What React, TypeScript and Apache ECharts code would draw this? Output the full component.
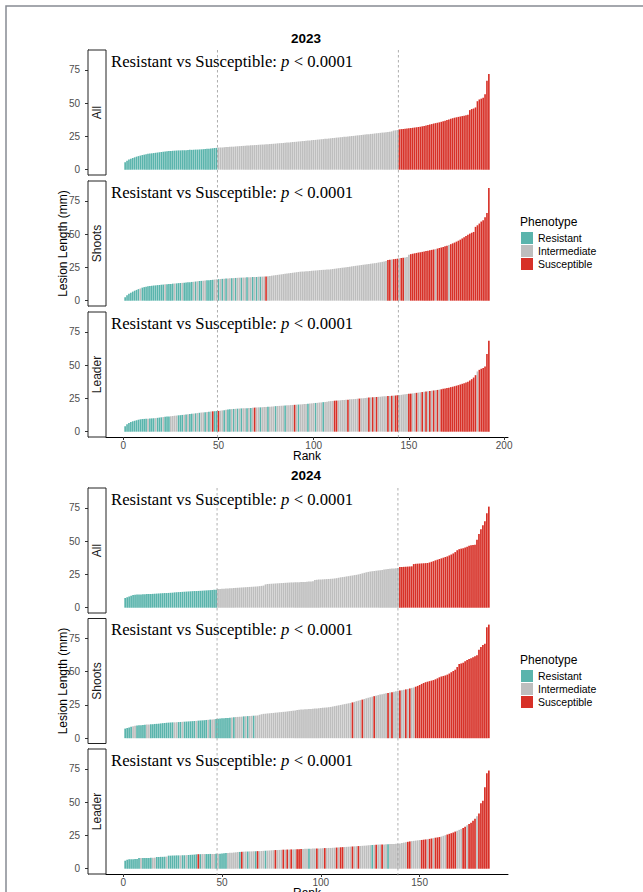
import React, { useEffect, useRef } from "react";
import * as echarts from "echarts";

// ---------- categories, labels, ticks ----------
const YEARS = ["2023", "2024"];
const FACETS = ["All", "Shoots", "Leader"];
const PHENOTYPES = ["Resistant", "Intermediate", "Susceptible"];
const PHENO_CODES = ["R", "I", "S"];
const Y_TICKS = [0, 25, 50, 75];
const X_TICKS_2023 = [0, 50, 100, 150, 200];
const X_TICKS_2024 = [0, 50, 100, 150];
const CUTS_2023 = [49.5, 144.5];
const CUTS_2024 = [47.5, 139];
const ANNOT_A = "Resistant vs Susceptible: ";
const ANNOT_P = "p";
const ANNOT_B = " < 0.0001";

// ---------- 2023 lesion lengths (sorted by rank) ----------
const all2023 = [
  5.5, 6.8, 7.6, 8.3, 8.8, 9.3, 9.8, 10.2, 10.6, 11.0,
  11.3, 11.6, 11.9, 12.1, 12.3, 12.5, 12.7, 12.9, 13.1, 13.3,
  13.5, 13.7, 13.9, 14.0, 14.1, 14.2, 14.3, 14.4, 14.5, 14.5,
  14.6, 14.6, 14.7, 14.8, 14.9, 14.9, 15.0, 15.1, 15.1, 15.2,
  15.3, 15.4, 15.5, 15.7, 15.8, 15.9, 16.1, 16.3, 16.4, 16.6,
  16.7, 16.7, 16.9, 17.0, 17.0, 17.2, 17.3, 17.3, 17.5, 17.6,
  17.7, 17.8, 17.9, 18.0, 18.1, 18.2, 18.3, 18.4, 18.5, 18.6,
  18.7, 18.8, 18.9, 19.0, 19.1, 19.2, 19.3, 19.4, 19.5, 19.6,
  19.8, 19.9, 20.0, 20.1, 20.2, 20.4, 20.5, 20.6, 20.8, 20.9,
  21.0, 21.2, 21.3, 21.5, 21.6, 21.7, 21.9, 22.0, 22.2, 22.3,
  22.4, 22.6, 22.7, 22.9, 23.0, 23.2, 23.3, 23.5, 23.6, 23.8,
  23.9, 24.1, 24.2, 24.4, 24.5, 24.7, 24.8, 25.0, 25.1, 25.3,
  25.4, 25.6, 25.8, 25.9, 26.1, 26.2, 26.4, 26.6, 26.7, 26.9,
  27.0, 27.2, 27.4, 27.5, 27.7, 27.9, 28.0, 28.2, 28.4, 28.6,
  28.8, 29.4, 29.6, 29.8, 30.3, 30.5, 30.6, 30.8, 31.0, 31.1,
  31.3, 31.5, 31.7, 31.9, 32.1, 32.3, 32.6, 32.9, 33.3, 33.6,
  33.9, 34.3, 34.7, 35.0, 35.3, 35.6, 36.0, 36.4, 36.8, 37.3,
  37.8, 38.3, 38.7, 39.1, 39.4, 39.7, 40.0, 40.3, 40.6, 41.0,
  41.4, 44.8, 45.6, 46.0, 46.8, 51.5, 52.8, 53.4, 54.0, 56.8,
  66.9, 72.0,
];
const shoots2023 = [
  2.5, 4.0, 5.2, 6.0, 6.8, 7.5, 8.1, 8.7, 9.2, 9.8,
  10.2, 10.5, 10.8, 11.0, 11.2, 11.4, 11.5, 11.7, 11.8, 12.0,
  12.1, 12.3, 12.4, 12.5, 12.6, 12.8, 12.9, 13.0, 13.2, 13.3,
  13.4, 13.5, 13.7, 13.8, 13.9, 14.1, 14.2, 14.4, 14.6, 14.8,
  14.9, 15.0, 15.1, 15.3, 15.4, 15.6, 15.7, 15.9, 16.1, 16.2,
  16.3, 16.4, 16.5, 16.6, 16.7, 16.8, 16.9, 17.0, 17.1, 17.2,
  17.3, 17.3, 17.4, 17.5, 17.6, 17.6, 17.7, 17.8, 17.8, 17.9,
  18.0, 18.0, 18.1, 18.1, 18.2, 18.4, 18.6, 18.8, 19.0, 19.2,
  19.4, 19.6, 19.8, 20.0, 20.2, 20.4, 20.6, 20.8, 21.0, 21.2,
  21.4, 21.6, 21.8, 21.9, 22.0, 22.1, 22.2, 22.3, 22.5, 22.6,
  22.7, 22.8, 23.0, 23.1, 23.2, 23.3, 23.4, 23.5, 23.6, 23.8,
  24.0, 24.2, 24.4, 24.6, 24.8, 25.0, 25.2, 25.4, 25.6, 25.8,
  26.0, 26.2, 26.4, 26.6, 26.8, 27.0, 27.2, 27.4, 27.6, 27.8,
  28.0, 28.2, 28.4, 28.7, 28.9, 29.2, 29.5, 29.8, 30.6, 30.8,
  31.0, 31.2, 31.4, 31.6, 31.9, 32.1, 32.3, 32.5, 32.8, 34.5,
  35.0, 35.3, 35.6, 35.9, 36.2, 36.4, 36.7, 37.0, 37.3, 37.6,
  37.9, 38.2, 38.5, 38.8, 39.2, 39.6, 40.0, 40.4, 40.9, 41.4,
  41.9, 42.5, 43.1, 43.7, 44.4, 45.1, 45.9, 46.8, 47.7, 48.6,
  49.6, 50.4, 51.1, 51.7, 55.5, 56.7, 58.0, 59.5, 60.4, 62.8,
  65.9, 84.8,
];
const leader2023 = [
  4.0, 5.5, 6.5, 7.3, 7.8, 8.2, 8.6, 9.0, 9.3, 9.5,
  9.6, 9.7, 9.8, 9.9, 10.0, 10.1, 10.2, 10.4, 10.6, 10.8,
  11.0, 11.2, 11.4, 11.5, 11.6, 11.8, 12.0, 12.1, 12.3, 12.4,
  12.6, 12.7, 12.9, 13.1, 13.3, 13.5, 13.6, 13.8, 14.0, 14.2,
  14.4, 14.5, 14.7, 14.8, 15.0, 15.1, 15.3, 15.4, 15.5, 15.6,
  15.8, 16.0, 16.2, 16.4, 16.6, 16.8, 17.0, 17.1, 17.2, 17.3,
  17.4, 17.5, 17.6, 17.7, 17.7, 17.8, 17.9, 18.0, 18.1, 18.2,
  18.3, 18.3, 18.4, 18.5, 18.6, 18.7, 18.8, 18.9, 19.0, 19.2,
  19.3, 19.4, 19.5, 19.6, 19.7, 19.8, 19.9, 20.0, 20.1, 20.2,
  20.3, 20.4, 20.5, 20.6, 20.8, 20.9, 21.0, 21.2, 21.3, 21.5,
  21.6, 21.7, 21.9, 22.0, 22.2, 22.4, 22.6, 22.8, 23.0, 23.1,
  23.3, 23.4, 23.5, 23.6, 23.8, 23.9, 24.0, 24.1, 24.3, 24.4,
  24.5, 24.6, 24.8, 24.9, 25.1, 25.2, 25.4, 25.6, 25.7, 25.8,
  25.9, 26.0, 26.1, 26.2, 26.3, 26.5, 26.6, 26.7, 26.8, 26.9,
  27.0, 27.1, 27.2, 27.4, 27.5, 27.7, 27.9, 28.1, 28.3, 28.5,
  28.6, 28.8, 29.0, 29.2, 29.4, 29.6, 29.8, 30.0, 30.2, 30.4,
  30.6, 30.8, 31.0, 31.2, 31.4, 31.7, 31.9, 32.2, 32.5, 32.8,
  33.1, 33.5, 33.8, 34.2, 34.6, 35.0, 35.5, 36.0, 36.5, 37.0,
  37.6, 38.5, 39.5, 40.7, 42.5, 45.3, 46.5, 47.3, 47.9, 49.0,
  58.4, 68.3,
];

// ---------- 2024 lesion lengths (sorted by rank) ----------
const all2024 = [
  7.3, 7.9, 8.4, 9.0, 9.5, 9.8, 9.9, 10.0, 10.0, 10.1,
  10.1, 10.2, 10.2, 10.3, 10.4, 10.5, 10.6, 10.7, 10.8, 10.9,
  11.0, 11.0, 11.1, 11.2, 11.3, 11.5, 11.6, 11.7, 11.8, 11.9,
  12.0, 12.1, 12.2, 12.3, 12.4, 12.5, 12.5, 12.6, 12.7, 12.8,
  12.9, 13.0, 13.1, 13.2, 13.3, 13.4, 13.5, 14.0, 14.1, 14.2,
  14.3, 14.4, 14.5, 14.6, 14.7, 14.8, 14.9, 15.0, 15.1, 15.2,
  15.3, 15.4, 15.5, 15.6, 15.7, 15.8, 15.9, 16.0, 16.2, 16.4,
  16.6, 17.5, 17.8, 17.9, 18.0, 18.1, 18.2, 18.3, 18.4, 18.5,
  18.6, 18.7, 18.8, 18.9, 19.0, 19.0, 19.1, 19.1, 19.2, 19.3,
  19.4, 19.4, 19.5, 19.6, 19.7, 19.8, 20.8, 21.0, 21.1, 21.2,
  21.3, 21.4, 21.5, 21.6, 21.7, 21.8, 22.0, 22.2, 22.5, 22.8,
  23.0, 23.2, 23.5, 23.7, 24.0, 24.2, 24.5, 24.7, 25.0, 25.4,
  25.8, 26.2, 26.6, 26.9, 27.2, 27.4, 27.6, 27.8, 28.0, 28.2,
  28.4, 28.7, 28.9, 29.1, 29.3, 29.4, 29.5, 29.7, 29.8, 30.5,
  30.6, 30.7, 30.8, 30.9, 31.0, 31.1, 32.8, 33.0, 33.1, 33.2,
  33.3, 33.4, 33.5, 33.6, 34.0, 34.5, 35.0, 35.6, 36.1, 36.6,
  37.1, 37.6, 38.1, 38.6, 39.3, 40.0, 40.8, 41.8, 43.2, 44.0,
  44.4, 44.7, 45.2, 45.9, 46.5, 46.9, 47.1, 47.3, 51.0, 55.5,
  59.0, 62.0, 65.0, 71.0, 76.0,
];
const shoots2024 = [
  7.2, 7.6, 8.1, 8.6, 9.0, 9.3, 9.5, 9.7, 9.8, 9.9,
  10.1, 10.2, 10.3, 10.4, 10.5, 10.7, 10.8, 10.9, 11.1, 11.3,
  11.4, 11.6, 11.7, 11.8, 11.9, 11.9, 12.0, 12.1, 12.2, 12.3,
  12.4, 12.5, 12.6, 12.7, 12.8, 12.9, 13.0, 13.2, 13.3, 13.4,
  13.5, 13.7, 13.8, 14.0, 14.1, 14.3, 14.5, 14.6, 14.8, 14.9,
  15.0, 15.1, 15.2, 15.4, 15.6, 15.8, 15.9, 16.0, 16.1, 16.2,
  16.4, 16.5, 16.6, 16.7, 16.8, 16.9, 17.0, 17.1, 17.6, 18.0,
  18.3, 18.4, 18.6, 18.7, 18.9, 19.0, 19.2, 19.3, 19.5, 19.6,
  19.8, 19.9, 20.1, 20.3, 20.5, 20.7, 20.9, 21.1, 21.3, 21.5,
  21.6, 21.7, 21.8, 21.9, 22.0, 22.1, 22.3, 22.4, 22.6, 22.7,
  22.9, 23.0, 23.1, 23.3, 23.5, 23.8, 24.1, 24.4, 24.7, 25.0,
  25.3, 25.6, 25.9, 26.2, 26.5, 26.9, 27.3, 27.8, 28.2, 28.6,
  29.0, 29.5, 30.0, 30.4, 30.8, 31.2, 31.6, 32.0, 32.4, 32.8,
  33.1, 33.4, 33.7, 34.0, 34.3, 34.6, 34.9, 35.2, 35.5, 35.8,
  36.1, 36.4, 36.7, 37.0, 37.4, 37.8, 38.1, 38.7, 39.3, 40.0,
  40.8, 41.5, 42.1, 42.5, 42.9, 43.3, 43.7, 44.3, 45.0, 45.8,
  46.4, 46.8, 47.2, 47.8, 48.6, 49.6, 50.5, 51.5, 53.5, 55.8,
  56.2, 56.8, 57.8, 58.8, 59.6, 60.2, 60.9, 61.6, 62.4, 66.5,
  68.5, 70.0, 71.0, 83.4, 85.4,
];
const leader2024 = [
  6.0, 6.8, 7.0, 7.0, 7.1, 7.2, 7.3, 8.0, 8.0, 8.0,
  8.0, 8.1, 8.1, 8.2, 8.2, 8.3, 8.8, 8.8, 8.9, 8.9,
  9.0, 9.1, 9.8, 9.8, 9.9, 9.9, 10.0, 10.0, 10.0, 10.1,
  10.1, 10.2, 10.3, 10.4, 10.5, 10.6, 10.8, 10.9, 10.9, 11.0,
  11.0, 11.0, 11.0, 11.1, 11.1, 11.1, 11.2, 11.2, 11.3, 11.5,
  11.6, 11.7, 11.8, 11.9, 12.0, 12.2, 12.3, 12.5, 12.6, 12.7,
  12.8, 12.9, 12.9, 13.0, 13.0, 13.1, 13.1, 13.2, 13.2, 13.3,
  13.4, 13.5, 13.6, 13.7, 13.8, 13.9, 14.0, 14.0, 14.1, 14.2,
  14.3, 14.3, 14.4, 14.4, 14.5, 14.5, 14.6, 14.6, 14.7, 14.8,
  14.8, 14.9, 14.9, 15.0, 15.0, 15.1, 15.1, 15.2, 15.2, 15.3,
  15.4, 15.5, 15.5, 15.6, 15.6, 15.7, 15.8, 15.9, 16.0, 16.1,
  16.2, 16.3, 16.4, 16.5, 16.6, 16.7, 16.8, 16.9, 17.0, 17.1,
  17.2, 17.3, 17.4, 17.6, 17.7, 17.8, 17.9, 18.0, 18.1, 18.1,
  18.2, 18.2, 18.3, 18.4, 18.5, 18.5, 18.6, 18.7, 18.8, 19.0,
  19.3, 19.6, 19.9, 20.2, 20.5, 20.7, 20.9, 21.1, 21.3, 21.5,
  21.6, 21.8, 22.0, 22.2, 22.4, 22.7, 23.0, 23.3, 23.5, 23.8,
  24.2, 24.7, 25.2, 25.7, 26.2, 26.7, 27.2, 27.9, 28.5, 29.2,
  29.8, 30.5, 31.5, 32.6, 33.6, 34.5, 36.0, 37.5, 39.5, 41.5,
  49.2, 51.0, 61.2, 71.8, 73.8,
];

// ---------- phenotype of each ranked bar (R / I / S) ----------
const phenoAll2023 = "R".repeat(49) + "I".repeat(95) + "S".repeat(48);
const phenoShoots2023 = [
  "RRRRRRRRIR", "RRRRRRRRRR", "RIRRRRIRRR", "IRRRRRIRIR", "RIIRRRRIIR",
  "IRIRIIRIRI", "IRIIRIIRIR", "IRIISIIIII", "IIIIIIIIII", "IIIIIIIIII",
  "IIIIIIIIII", "IIIIIIIIII", "IIIIIIIIII", "IIIIIIIISS", "ISSSISSIII",
  "SSSSSSSSSS", "SSSISSSSSS", "ISSSSSSSSS", "SSSSSSSSSS", "SS",
].join("");
const phenoLeader2023 = [
  "RRRRRRRRRR", "RRIRRRIRRR", "IRRRIIIIRR", "RIRIRRIRIR", "IIRIRISRRS",
  "IIRIRRIRIR", "IRIIRIRISI", "IRIIIRIIIR", "IIIIRIIIIS", "IRIIIIRIII",
  "RIIIRIIIII", "SSIIIIISII", "IIISIIIISI", "SISIIIIISI", "SISSIIIIIS",
  "SIISIISISI", "SISISISSSS", "SSSSSSSSSS", "SSSSSISSSS", "SS",
].join("");
const phenoAll2024 = "R".repeat(47) + "I".repeat(92) + "S".repeat(46);
const phenoShoots2024 = [
  "RRRRIIRRRR", "RIIRRRRRRR", "RRRRRIIRRI", "RRRRRRIRRR", "RRIRIIRRRR",
  "RRRRIRIIII", "RIRIIRIIII", "IIIIIIIIII", "IIIIIIIIII", "IIIIIIIIII",
  "IIIIIIIIII", "IIIIISIIII", "SIIIIISIII", "IIISISIIIS", "IISISIISSS",
  "SSSSSSSSSS", "SSSSSSSSSS", "SSSSSSSSSS", "SSSSS",
].join("");
const phenoLeader2024 = [
  "RRRRRRRRIR", "RRRRIIRRRR", "RIRRRRRRIR", "RIRRRRRSRI", "IRRRIIRIRR",
  "RRIIIIIIRS", "IIRIIIRSII", "IRIIIISIII", "SISISIISSS", "IIIRIIISII",
  "ISIIIIISIS", "SIIIISIISI", "IIIIIRISII", "SIIRIIIIII", "IIISSIIIII",
  "SSSISSISSS", "IIISSSSSII", "ISSISSSSIS", "SSSSS",
].join("");

// ---------- styles & layout ----------
const COLORS = ["#5AB4AC", "#BEBEBE", "#D73027"];
const SANS = "'Liberation Sans', Arial, Helvetica, sans-serif";
const SERIF = "'Liberation Serif', 'Times New Roman', Times, serif";
const GRID_LEFT = 106;
const GRID_W = 402;
const PANEL_H = 125;
const PANEL_TOPS = [
  [50, 181, 312],
  [488, 618.5, 749],
];
const X_RANGES = [
  [-9.05, 202.05],
  [-8.7, 194.7],
];
const Y_RANGE = [-4, 90];
const YEAR_TITLE_Y = [38, 475.7];
const LEGEND_TITLE_Y = [221.5, 659.5];
const LEGEND_TOP = [232, 670];

const YEAR_DATA = [
  {
    values: [all2023, shoots2023, leader2023],
    phenos: [phenoAll2023, phenoShoots2023, phenoLeader2023],
    xTicks: X_TICKS_2023,
    cuts: CUTS_2023,
  },
  {
    values: [all2024, shoots2024, leader2024],
    phenos: [phenoAll2024, phenoShoots2024, phenoLeader2024],
    xTicks: X_TICKS_2024,
    cuts: CUTS_2024,
  },
];

function buildOption(): any {
  const grid: any[] = [];
  const xAxis: any[] = [];
  const yAxis: any[] = [];
  const series: any[] = [];

  YEAR_DATA.forEach((yd, yi) => {
    const [xmin, xmax] = X_RANGES[yi];
    const pxPerUnit = GRID_W / (xmax - xmin);
    FACETS.forEach((facet, fi) => {
      const gi = yi * 3 + fi;
      const isBottom = fi === 2;
      grid.push({
        left: GRID_LEFT,
        top: PANEL_TOPS[yi][fi],
        width: GRID_W,
        height: PANEL_H,
        containLabel: false,
        outerBoundsMode: "none",
      });
      xAxis.push({
        type: "value",
        gridIndex: gi,
        min: xmin,
        max: xmax,
        show: isBottom,
        splitLine: { show: false },
        axisLine: { show: true, onZero: false, lineStyle: { color: "#000", width: 1 } },
        axisTick: { show: true, length: 3, customValues: yd.xTicks, lineStyle: { color: "#333" } },
        axisLabel: {
          show: true,
          customValues: yd.xTicks,
          color: "#4D4D4D",
          fontSize: 10,
          margin: 3,
          fontFamily: SANS,
        },
        name: isBottom ? "Rank" : "",
        nameLocation: "middle",
        nameGap: 13,
        nameMoveOverlap: false,
        nameTextStyle: { fontSize: 12, color: "#000", fontFamily: SANS },
      });
      yAxis.push({
        type: "value",
        gridIndex: gi,
        min: Y_RANGE[0],
        max: Y_RANGE[1],
        offset: 18,
        splitLine: { show: false },
        axisLine: { show: true, onZero: false, lineStyle: { color: "#000", width: 1 } },
        axisTick: { show: true, length: 3, customValues: Y_TICKS, lineStyle: { color: "#333" } },
        axisLabel: {
          customValues: Y_TICKS,
          color: "#4D4D4D",
          fontSize: 10,
          margin: 8,
          fontFamily: SANS,
        },
        name: fi === 1 ? "Lesion Length (mm)" : "",
        nameLocation: "middle",
        nameGap: 19,
        nameMoveOverlap: false,
        nameTextStyle: { fontSize: 12, color: "#000", fontFamily: SANS },
      });
      const vals = yd.values[fi];
      const ph = yd.phenos[fi];
      PHENO_CODES.forEach((code, pi) => {
        const data: any[] = [];
        vals.forEach((v, i) => {
          if (ph[i] === code) data.push([i + 1, v]);
        });
        series.push({
          type: "bar",
          name: PHENOTYPES[pi],
          xAxisIndex: gi,
          yAxisIndex: gi,
          barWidth: pxPerUnit * 0.86,
          barGap: "-100%",
          itemStyle: { color: COLORS[pi] },
          silent: true,
          data,
        });
      });
    });
  });

  return {
    animation: false,
    backgroundColor: "#ffffff",
    textStyle: { fontFamily: SANS },
    grid,
    xAxis,
    yAxis,
    series,
    legend: LEGEND_TOP.map((top) => ({
      data: PHENOTYPES,
      orient: "vertical",
      left: 521,
      top,
      itemWidth: 12,
      itemHeight: 12,
      itemGap: 1,
      icon: "rect",
      padding: 0,
      selectedMode: false,
      textStyle: { fontSize: 10.5, color: "#000", fontFamily: SANS },
    })),
  };
}

function buildGraphics(chart: any): any[] {
  const g: any[] = [];
  g.push({
    type: "rect",
    silent: true,
    shape: { x: 6, y: 6, width: 800, height: 1000 },
    style: { fill: "none", stroke: "#868B93", lineWidth: 1.5 },
  });
  YEAR_DATA.forEach((yd, yi) => {
    g.push({
      type: "text",
      x: 306,
      y: YEAR_TITLE_Y[yi],
      style: {
        text: YEARS[yi],
        fontSize: 13.5,
        fontWeight: "bold",
        fontFamily: SANS,
        fill: "#000",
        textAlign: "center",
        textVerticalAlign: "middle",
        align: "center",
        verticalAlign: "middle",
      },
    });
    g.push({
      type: "text",
      x: 520,
      y: LEGEND_TITLE_Y[yi],
      style: {
        text: "Phenotype",
        fontSize: 12,
        fontFamily: SANS,
        fill: "#000",
        textAlign: "left",
        textVerticalAlign: "middle",
        align: "left",
        verticalAlign: "middle",
      },
    });
    FACETS.forEach((facet, fi) => {
      const top = PANEL_TOPS[yi][fi];
      g.push({
        type: "rect",
        silent: true,
        shape: { x: 88, y: top, width: 18, height: PANEL_H },
        style: { fill: "#ffffff", stroke: "#222", lineWidth: 1 },
        z: 5,
      });
      g.push({
        type: "text",
        x: 97,
        y: top + PANEL_H / 2,
        rotation: Math.PI / 2,
        z: 6,
        style: {
          text: facet,
          fontSize: 12,
          fontFamily: SANS,
          fill: "#1A1A1A",
          textAlign: "center",
          textVerticalAlign: "middle",
          align: "center",
          verticalAlign: "middle",
        },
      });
      g.push({
        type: "text",
        x: 111,
        y: top + 11.2,
        z: 6,
        style: {
          text: `{a|${ANNOT_A}}{b|${ANNOT_P}}{a|${ANNOT_B}}`,
          textAlign: "left",
          textVerticalAlign: "middle",
          align: "left",
          verticalAlign: "middle",
          rich: {
            a: { fontFamily: SERIF, fontSize: 16.7, fill: "#000", textFill: "#000" },
            b: { fontFamily: SERIF, fontSize: 16.7, fontStyle: "italic", fill: "#000", textFill: "#000" },
          },
        },
      });
    });
    const yTop = PANEL_TOPS[yi][0];
    const yBot = PANEL_TOPS[yi][2] + PANEL_H;
    yd.cuts.forEach((c) => {
      const px = chart.convertToPixel({ xAxisIndex: yi * 3 }, c);
      g.push({
        type: "line",
        silent: true,
        z: 20,
        shape: { x1: px, y1: yTop, x2: px, y2: yBot + 2 },
        style: { stroke: "#9A9A9A", lineWidth: 0.8, lineDash: [2.5, 2.5] },
      });
    });
  });
  return g;
}

export default function App() {
  const ref = useRef<HTMLDivElement>(null);
  useEffect(() => {
    if (!ref.current) return;
    const chart = echarts.init(ref.current, null, { renderer: "svg" });
    chart.setOption(buildOption());
    chart.setOption({ graphic: [{ elements: buildGraphics(chart) }] });
    return () => chart.dispose();
  }, []);
  return (
    <div
      ref={ref}
      style={{ position: "absolute", left: 0, top: 0, width: 643, height: 892, background: "#fff" }}
    />
  );
}
